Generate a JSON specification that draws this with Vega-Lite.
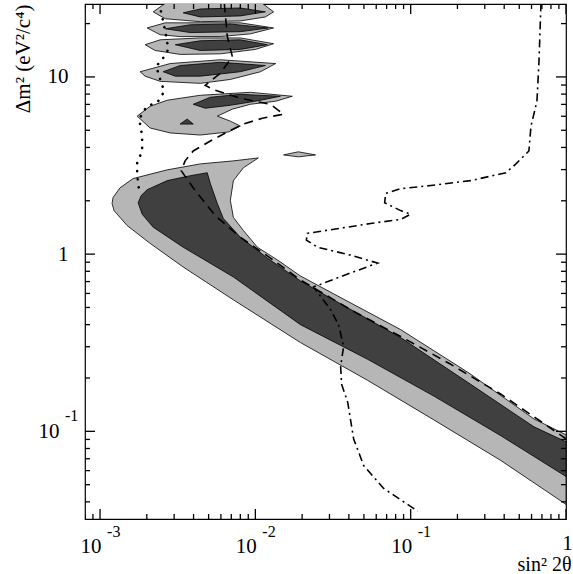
{
 "$schema": "https://vega.github.io/schema/vega-lite/v6.json",
 "width": 481, "height": 515,
 "autosize": {"type": "none"},
 "padding": {"left": 85, "top": 4, "right": 7, "bottom": 55},
 "background": "white",
 "config": {
  "view": {"stroke": "black", "strokeWidth": 1.2},
  "axis": {"grid": false, "domain": false, "ticks": false, "tickSize": 0, "labelColor": "black", "titleColor": "black", "labelFont": "Liberation Serif", "titleFont": "Liberation Serif", "labelFontSize": 21, "titleFontSize": 21, "titleFontWeight": "normal"}
 },
 "datasets": {
  "light": [
   {"id":"L0","i":0,"x":0.001213,"y":2.09},{"id":"L0","i":1,"x":0.001346,"y":2.37},{"id":"L0","i":2,"x":0.001633,"y":2.67},{"id":"L0","i":3,"x":0.00271,"y":2.99},{"id":"L0","i":4,"x":0.00442,"y":3.23},{"id":"L0","i":5,"x":0.00722,"y":3.36},{"id":"L0","i":6,"x":0.01045,"y":3.49},{"id":"L0","i":7,"x":0.00837,"y":3.07},{"id":"L0","i":8,"x":0.00722,"y":2.6},{"id":"L0","i":9,"x":0.0069,"y":2.01},{"id":"L0","i":10,"x":0.00722,"y":1.61},{"id":"L0","i":11,"x":0.00837,"y":1.36},{"id":"L0","i":12,"x":0.0103,"y":1.094},{"id":"L0","i":13,"x":0.0139,"y":0.926},{"id":"L0","i":14,"x":0.0195,"y":0.753},{"id":"L0","i":15,"x":0.0319,"y":0.597},{"id":"L0","i":16,"x":0.0862,"y":0.375},{"id":"L0","i":17,"x":0.233,"y":0.2155},{"id":"L0","i":18,"x":0.622,"y":0.1175},{"id":"L0","i":19,"x":1.0,"y":0.0955},{"id":"L0","i":20,"x":1.0,"y":0.0387},{"id":"L0","i":21,"x":0.381,"y":0.0684},{"id":"L0","i":22,"x":0.141,"y":0.116},{"id":"L0","i":23,"x":0.0528,"y":0.194},{"id":"L0","i":24,"x":0.0195,"y":0.317},{"id":"L0","i":25,"x":0.00722,"y":0.552},{"id":"L0","i":26,"x":0.00343,"y":0.846},{"id":"L0","i":27,"x":0.0021,"y":1.15},{"id":"L0","i":28,"x":0.001493,"y":1.45},{"id":"L0","i":29,"x":0.001231,"y":1.76},{"id":"L0","i":30,"x":0.001195,"y":1.93},{"id":"L0","i":31,"x":0.001213,"y":2.09},
   {"id":"L1","i":0,"x":0.00263,"y":26},{"id":"L1","i":1,"x":0.002198,"y":23.3},{"id":"L1","i":2,"x":0.00263,"y":21.3},{"id":"L1","i":3,"x":0.00442,"y":20.5},{"id":"L1","i":4,"x":0.008,"y":20.7},{"id":"L1","i":5,"x":0.0116,"y":21.8},{"id":"L1","i":6,"x":0.0131,"y":23.3},{"id":"L1","i":7,"x":0.0111,"y":26},{"id":"L1","i":8,"x":0.00263,"y":26},
   {"id":"L2","i":0,"x":0.00201,"y":18.9},{"id":"L2","i":1,"x":0.00263,"y":20.2},{"id":"L2","i":2,"x":0.00442,"y":20.2},{"id":"L2","i":3,"x":0.008,"y":20.2},{"id":"L2","i":4,"x":0.0131,"y":18.9},{"id":"L2","i":5,"x":0.00929,"y":17.5},{"id":"L2","i":6,"x":0.00595,"y":16.9},{"id":"L2","i":7,"x":0.00328,"y":16.9},{"id":"L2","i":8,"x":0.00244,"y":17.3},{"id":"L2","i":9,"x":0.00201,"y":18.9},
   {"id":"L3","i":0,"x":0.001951,"y":15.2},{"id":"L3","i":1,"x":0.00244,"y":16.2},{"id":"L3","i":2,"x":0.00442,"y":16.6},{"id":"L3","i":3,"x":0.008,"y":16.6},{"id":"L3","i":4,"x":0.0131,"y":15.4},{"id":"L3","i":5,"x":0.01,"y":14.3},{"id":"L3","i":6,"x":0.00595,"y":13.5},{"id":"L3","i":7,"x":0.00328,"y":13.4},{"id":"L3","i":8,"x":0.002264,"y":14.1},{"id":"L3","i":9,"x":0.001951,"y":15.2},
   {"id":"L4","i":0,"x":0.001811,"y":10.7},{"id":"L4","i":1,"x":0.00283,"y":11.9},{"id":"L4","i":2,"x":0.00595,"y":12.5},{"id":"L4","i":3,"x":0.0135,"y":11.9},{"id":"L4","i":4,"x":0.0108,"y":10.7},{"id":"L4","i":5,"x":0.0069,"y":9.68},{"id":"L4","i":6,"x":0.00442,"y":9.2},{"id":"L4","i":7,"x":0.00244,"y":9.44},{"id":"L4","i":8,"x":0.001951,"y":10.1},{"id":"L4","i":9,"x":0.001811,"y":10.7},
   {"id":"L5","i":0,"x":0.001734,"y":6.01},{"id":"L5","i":1,"x":0.0021,"y":6.83},{"id":"L5","i":2,"x":0.00271,"y":7.39},{"id":"L5","i":3,"x":0.00442,"y":7.88},{"id":"L5","i":4,"x":0.00929,"y":8.19},{"id":"L5","i":5,"x":0.0173,"y":7.78},{"id":"L5","i":6,"x":0.0135,"y":7.29},{"id":"L5","i":7,"x":0.00929,"y":7.01},{"id":"L5","i":8,"x":0.00711,"y":6.58},{"id":"L5","i":9,"x":0.00569,"y":6.01},{"id":"L5","i":10,"x":0.0069,"y":5.63},{"id":"L5","i":11,"x":0.008,"y":5.28},{"id":"L5","i":12,"x":0.0067,"y":4.89},{"id":"L5","i":13,"x":0.00442,"y":4.7},{"id":"L5","i":14,"x":0.00283,"y":4.83},{"id":"L5","i":15,"x":0.0021,"y":5.15},{"id":"L5","i":16,"x":0.001734,"y":6.01},
   {"id":"L6","i":0,"x":0.0152,"y":3.63},{"id":"L6","i":1,"x":0.0189,"y":3.78},{"id":"L6","i":2,"x":0.0244,"y":3.63},{"id":"L6","i":3,"x":0.0189,"y":3.54},{"id":"L6","i":4,"x":0.0152,"y":3.63}
  ],
  "dark": [
   {"id":"D0","i":0,"x":0.001759,"y":1.95},{"id":"D0","i":1,"x":0.00184,"y":2.14},{"id":"D0","i":2,"x":0.00201,"y":2.31},{"id":"D0","i":3,"x":0.00271,"y":2.6},{"id":"D0","i":4,"x":0.00381,"y":2.77},{"id":"D0","i":5,"x":0.0049,"y":2.88},{"id":"D0","i":6,"x":0.00513,"y":2.5},{"id":"D0","i":7,"x":0.00569,"y":1.93},{"id":"D0","i":8,"x":0.00622,"y":1.59},{"id":"D0","i":9,"x":0.008,"y":1.245},{"id":"D0","i":10,"x":0.01195,"y":0.95},{"id":"D0","i":11,"x":0.0195,"y":0.706},{"id":"D0","i":12,"x":0.0319,"y":0.552},{"id":"D0","i":13,"x":0.0862,"y":0.338},{"id":"D0","i":14,"x":0.233,"y":0.189},{"id":"D0","i":15,"x":0.622,"y":0.106},{"id":"D0","i":16,"x":1.0,"y":0.0873},{"id":"D0","i":17,"x":1.0,"y":0.0556},{"id":"D0","i":18,"x":0.381,"y":0.0944},{"id":"D0","i":19,"x":0.141,"y":0.158},{"id":"D0","i":20,"x":0.0528,"y":0.255},{"id":"D0","i":21,"x":0.0195,"y":0.4},{"id":"D0","i":22,"x":0.00722,"y":0.743},{"id":"D0","i":23,"x":0.00343,"y":1.094},{"id":"D0","i":24,"x":0.002198,"y":1.42},{"id":"D0","i":25,"x":0.001867,"y":1.68},{"id":"D0","i":26,"x":0.001759,"y":1.95},
   {"id":"D1","i":0,"x":0.00343,"y":23.0},{"id":"D1","i":1,"x":0.00442,"y":24.2},{"id":"D1","i":2,"x":0.008,"y":24.5},{"id":"D1","i":3,"x":0.0116,"y":23.3},{"id":"D1","i":4,"x":0.008,"y":22.1},{"id":"D1","i":5,"x":0.00442,"y":21.8},{"id":"D1","i":6,"x":0.00343,"y":23.0},
   {"id":"D2","i":0,"x":0.00263,"y":18.7},{"id":"D2","i":1,"x":0.00381,"y":19.7},{"id":"D2","i":2,"x":0.0069,"y":19.9},{"id":"D2","i":3,"x":0.0121,"y":18.9},{"id":"D2","i":4,"x":0.008,"y":18.0},{"id":"D2","i":5,"x":0.00381,"y":17.8},{"id":"D2","i":6,"x":0.00263,"y":18.7},
   {"id":"D3","i":0,"x":0.00305,"y":15.2},{"id":"D3","i":1,"x":0.00442,"y":16.0},{"id":"D3","i":2,"x":0.008,"y":16.2},{"id":"D3","i":3,"x":0.01195,"y":15.2},{"id":"D3","i":4,"x":0.008,"y":14.3},{"id":"D3","i":5,"x":0.00442,"y":14.1},{"id":"D3","i":6,"x":0.00305,"y":15.2},
   {"id":"D4","i":0,"x":0.00255,"y":10.7},{"id":"D4","i":1,"x":0.00328,"y":11.6},{"id":"D4","i":2,"x":0.00595,"y":12.1},{"id":"D4","i":3,"x":0.0116,"y":11.6},{"id":"D4","i":4,"x":0.008,"y":10.7},{"id":"D4","i":5,"x":0.00442,"y":10.1},{"id":"D4","i":6,"x":0.00305,"y":10.1},{"id":"D4","i":7,"x":0.00255,"y":10.7},
   {"id":"D5","i":0,"x":0.00398,"y":7.01},{"id":"D5","i":1,"x":0.00513,"y":7.68},{"id":"D5","i":2,"x":0.008,"y":7.98},{"id":"D5","i":3,"x":0.0145,"y":7.78},{"id":"D5","i":4,"x":0.01,"y":7.29},{"id":"D5","i":5,"x":0.0069,"y":6.92},{"id":"D5","i":6,"x":0.00476,"y":6.66},{"id":"D5","i":7,"x":0.00398,"y":7.01},
   {"id":"D6","i":0,"x":0.00328,"y":5.42},{"id":"D6","i":1,"x":0.00364,"y":5.78},{"id":"D6","i":2,"x":0.00398,"y":5.42},{"id":"D6","i":3,"x":0.00328,"y":5.42}
  ],
  "curves": [
   {"id":"dot","i":0,"x":0.002404,"y":26},{"id":"dot","i":1,"x":0.00255,"y":20.5},{"id":"dot","i":2,"x":0.00267,"y":16.9},{"id":"dot","i":3,"x":0.00275,"y":14.3},{"id":"dot","i":4,"x":0.00251,"y":12.5},{"id":"dot","i":5,"x":0.002297,"y":11.5},{"id":"dot","i":6,"x":0.00244,"y":9.68},{"id":"dot","i":7,"x":0.00259,"y":8.29},{"id":"dot","i":8,"x":0.002366,"y":7.29},{"id":"dot","i":9,"x":0.001982,"y":6.75},{"id":"dot","i":10,"x":0.001786,"y":5.78},{"id":"dot","i":11,"x":0.001867,"y":4.64},{"id":"dot","i":12,"x":0.001867,"y":3.82},{"id":"dot","i":13,"x":0.001734,"y":3.28},{"id":"dot","i":14,"x":0.001734,"y":2.77},{"id":"dot","i":15,"x":0.001786,"y":2.28},
   {"id":"dash","i":0,"x":0.00631,"y":26},{"id":"dash","i":1,"x":0.0066,"y":16.9},{"id":"dash","i":2,"x":0.00711,"y":13.0},{"id":"dash","i":3,"x":0.00595,"y":10.5},{"id":"dash","i":4,"x":0.00476,"y":8.96},{"id":"dash","i":5,"x":0.00552,"y":8.4},{"id":"dash","i":6,"x":0.008,"y":7.58},{"id":"dash","i":7,"x":0.0125,"y":7.01},{"id":"dash","i":8,"x":0.0152,"y":6.16},{"id":"dash","i":9,"x":0.0141,"y":6.09},{"id":"dash","i":10,"x":0.0111,"y":5.85},{"id":"dash","i":11,"x":0.00837,"y":5.42},{"id":"dash","i":12,"x":0.0066,"y":4.89},{"id":"dash","i":13,"x":0.00513,"y":4.35},{"id":"dash","i":14,"x":0.00398,"y":3.82},{"id":"dash","i":15,"x":0.00353,"y":3.36},{"id":"dash","i":16,"x":0.00333,"y":2.96},{"id":"dash","i":17,"x":0.0041,"y":2.28},{"id":"dash","i":18,"x":0.00552,"y":1.65},{"id":"dash","i":19,"x":0.008,"y":1.245},{"id":"dash","i":20,"x":0.0125,"y":0.95},{"id":"dash","i":21,"x":0.0195,"y":0.715},{"id":"dash","i":22,"x":0.041,"y":0.486},{"id":"dash","i":23,"x":0.0862,"y":0.343},{"id":"dash","i":24,"x":0.181,"y":0.239},{"id":"dash","i":25,"x":0.381,"y":0.162},{"id":"dash","i":26,"x":1.0,"y":0.0908},
   {"id":"dd","i":0,"x":0.69,"y":26},{"id":"dd","i":1,"x":0.67,"y":12.2},{"id":"dd","i":2,"x":0.65,"y":7.29},{"id":"dd","i":3,"x":0.595,"y":5.28},{"id":"dd","i":4,"x":0.577,"y":3.82},{"id":"dd","i":5,"x":0.476,"y":3.23},{"id":"dd","i":6,"x":0.41,"y":2.88},{"id":"dd","i":7,"x":0.244,"y":2.6},{"id":"dd","i":8,"x":0.135,"y":2.44},{"id":"dd","i":9,"x":0.0862,"y":2.34},{"id":"dd","i":10,"x":0.069,"y":2.2},{"id":"dd","i":11,"x":0.068,"y":1.95},{"id":"dd","i":12,"x":0.0862,"y":1.76},{"id":"dd","i":13,"x":0.1,"y":1.68},{"id":"dd","i":14,"x":0.0862,"y":1.57},{"id":"dd","i":15,"x":0.0552,"y":1.49},{"id":"dd","i":16,"x":0.0354,"y":1.4},{"id":"dd","i":17,"x":0.0216,"y":1.31},{"id":"dd","i":18,"x":0.0213,"y":1.2},{"id":"dd","i":19,"x":0.0251,"y":1.094},{"id":"dd","i":20,"x":0.041,"y":0.987},{"id":"dd","i":21,"x":0.0612,"y":0.89},{"id":"dd","i":22,"x":0.041,"y":0.783},{"id":"dd","i":23,"x":0.0237,"y":0.653},{"id":"dd","i":24,"x":0.0305,"y":0.486},{"id":"dd","i":25,"x":0.0343,"y":0.4},{"id":"dd","i":26,"x":0.037,"y":0.301},{"id":"dd","i":27,"x":0.0354,"y":0.233},{"id":"dd","i":28,"x":0.0359,"y":0.1845},{"id":"dd","i":29,"x":0.0393,"y":0.146},{"id":"dd","i":30,"x":0.0429,"y":0.0908},{"id":"dd","i":31,"x":0.0498,"y":0.0641},{"id":"dd","i":32,"x":0.067,"y":0.0476},{"id":"dd","i":33,"x":0.111,"y":0.0354}
  ],
  "xexp": [{"v":0.001,"e":"-3"},{"v":0.01,"e":"-2"},{"v":0.1,"e":"-1"}],
  "yexp": [{"v":0.1,"e":"-1"}],
  "xt": [{"v":0.0008,"k":"minor"},{"v":0.0009,"k":"minor"},{"v":0.001,"k":"major"},{"v":0.002,"k":"minor"},{"v":0.003,"k":"minor"},{"v":0.004,"k":"minor"},{"v":0.005,"k":"minor"},{"v":0.006,"k":"minor"},{"v":0.007,"k":"minor"},{"v":0.008,"k":"minor"},{"v":0.009,"k":"minor"},{"v":0.01,"k":"major"},{"v":0.02,"k":"minor"},{"v":0.03,"k":"minor"},{"v":0.04,"k":"minor"},{"v":0.05,"k":"minor"},{"v":0.06,"k":"minor"},{"v":0.07,"k":"minor"},{"v":0.08,"k":"minor"},{"v":0.09,"k":"minor"},{"v":0.1,"k":"major"},{"v":0.2,"k":"minor"},{"v":0.3,"k":"minor"},{"v":0.4,"k":"minor"},{"v":0.5,"k":"minor"},{"v":0.6,"k":"minor"},{"v":0.7,"k":"minor"},{"v":0.8,"k":"minor"},{"v":0.9,"k":"minor"},{"v":1,"k":"major"}],
  "yt": [{"v":0.04,"k":"minor"},{"v":0.05,"k":"minor"},{"v":0.06,"k":"minor"},{"v":0.07,"k":"minor"},{"v":0.08,"k":"minor"},{"v":0.09,"k":"minor"},{"v":0.1,"k":"major"},{"v":0.2,"k":"minor"},{"v":0.3,"k":"minor"},{"v":0.4,"k":"minor"},{"v":0.5,"k":"minor"},{"v":0.6,"k":"minor"},{"v":0.7,"k":"minor"},{"v":0.8,"k":"minor"},{"v":0.9,"k":"minor"},{"v":1,"k":"major"},{"v":2,"k":"minor"},{"v":3,"k":"minor"},{"v":4,"k":"minor"},{"v":5,"k":"minor"},{"v":6,"k":"minor"},{"v":7,"k":"minor"},{"v":8,"k":"minor"},{"v":9,"k":"minor"},{"v":10,"k":"major"},{"v":20,"k":"minor"}]
 },
 "layer": [
  {
   "data": {"name": "light"},
   "mark": {"type": "line", "fill": "#b6b6b6", "stroke": "black", "strokeWidth": 0.8, "clip": true},
   "encoding": {
    "x": {"field": "x", "type": "quantitative", "scale": {"type": "log", "domain": [0.0008, 1], "nice": false},
     "axis": {"orient": "bottom", "values": [0.001,0.01,0.1,1],
      "labelExpr": "datum.value > 0.99 ? '1' : '10'",
      "labelPadding": {"condition": {"test": "datum.value > 0.99", "value": 30}, "value": 33}, "labelBaseline": "alphabetic", "labelAlign": {"condition": {"test": "datum.value > 0.99", "value": "center"}, "value": "right"},
      "labelOffset": 1, "labelFlush": false, "labelOverlap": false, "labelBound": false,
      "title": "sin² 2θ", "titleX": 486, "titleY": 51, "titleAlign": "right", "titleBaseline": "alphabetic", "titleFontSize": 20}},
    "y": {"field": "y", "type": "quantitative", "scale": {"type": "log", "domain": [0.032, 25.8], "nice": false},
     "axis": {"orient": "left", "values": [0.1,1,10],
      "labelExpr": "(datum.value > 0.99 && datum.value < 1.01) ? '1' : '10'",
      "labelPadding": {"condition": {"test": "datum.value < 0.2", "value": 26}, "value": 17},
      "labelBaseline": "middle", "labelFlush": false, "labelOverlap": false, "labelBound": false,
      "title": "Δm² (eV²/c⁴)", "titleAngle": -90, "titleX": -56, "titleY": 0, "titleAlign": "right", "titleBaseline": "alphabetic", "titleFontSize": 21}},
    "detail": {"field": "id"},
    "order": {"field": "i", "type": "quantitative"}
   }
  },
  {
   "data": {"name": "dark"},
   "mark": {"type": "line", "fill": "#404040", "stroke": "black", "strokeWidth": 0.8, "clip": true},
   "encoding": {
    "x": {"field": "x", "type": "quantitative", "scale": {"type": "log", "domain": [0.0008, 1], "nice": false}},
    "y": {"field": "y", "type": "quantitative", "scale": {"type": "log", "domain": [0.032, 25.8], "nice": false}},
    "detail": {"field": "id"},
    "order": {"field": "i", "type": "quantitative"}
   }
  },
  {
   "data": {"name": "curves"},
   "transform": [{"filter": "datum.id == 'dot'"}],
   "mark": {"type": "line", "stroke": "black", "strokeWidth": 2.6, "strokeDash": [0.1, 8], "strokeCap": "round", "clip": true},
   "encoding": {
    "x": {"field": "x", "type": "quantitative", "scale": {"type": "log", "domain": [0.0008, 1], "nice": false}},
    "y": {"field": "y", "type": "quantitative", "scale": {"type": "log", "domain": [0.032, 25.8], "nice": false}},
    "order": {"field": "i", "type": "quantitative"}
   }
  },
  {
   "data": {"name": "curves"},
   "transform": [{"filter": "datum.id == 'dash'"}],
   "mark": {"type": "line", "stroke": "black", "strokeWidth": 1.6, "strokeDash": [9, 6], "clip": true},
   "encoding": {
    "x": {"field": "x", "type": "quantitative", "scale": {"type": "log", "domain": [0.0008, 1], "nice": false}},
    "y": {"field": "y", "type": "quantitative", "scale": {"type": "log", "domain": [0.032, 25.8], "nice": false}},
    "order": {"field": "i", "type": "quantitative"}
   }
  },
  {
   "data": {"name": "curves"},
   "transform": [{"filter": "datum.id == 'dd'"}],
   "mark": {"type": "line", "stroke": "black", "strokeWidth": 1.6, "strokeDash": [8, 4, 2, 4], "clip": true},
   "encoding": {
    "x": {"field": "x", "type": "quantitative", "scale": {"type": "log", "domain": [0.0008, 1], "nice": false}},
    "y": {"field": "y", "type": "quantitative", "scale": {"type": "log", "domain": [0.032, 25.8], "nice": false}},
    "order": {"field": "i", "type": "quantitative"}
   }
  },
  {
   "data": {"name": "xt"},
   "mark": {"type": "tick", "orient": "vertical", "thickness": 1.3, "color": "black", "opacity": 1, "clip": true},
   "encoding": {
    "x": {"field": "v", "type": "quantitative", "scale": {"type": "log", "domain": [0.0008, 1], "nice": false}},
    "y": {"datum": 0.032, "type": "quantitative", "scale": {"type": "log", "domain": [0.032, 25.8], "nice": false}},
    "size": {"field": "k", "type": "nominal", "scale": {"domain": ["major", "minor"], "range": [20, 10]}, "legend": null}
   }
  },
  {
   "data": {"name": "xt"},
   "mark": {"type": "tick", "orient": "vertical", "thickness": 1.3, "color": "black", "opacity": 1, "clip": true},
   "encoding": {
    "x": {"field": "v", "type": "quantitative", "scale": {"type": "log", "domain": [0.0008, 1], "nice": false}},
    "y": {"datum": 25.8, "type": "quantitative", "scale": {"type": "log", "domain": [0.032, 25.8], "nice": false}},
    "size": {"field": "k", "type": "nominal", "scale": {"domain": ["major", "minor"], "range": [20, 10]}, "legend": null}
   }
  },
  {
   "data": {"name": "yt"},
   "mark": {"type": "tick", "orient": "horizontal", "thickness": 1.3, "color": "black", "opacity": 1, "clip": true},
   "encoding": {
    "x": {"datum": 0.0008, "type": "quantitative", "scale": {"type": "log", "domain": [0.0008, 1], "nice": false}},
    "y": {"field": "v", "type": "quantitative", "scale": {"type": "log", "domain": [0.032, 25.8], "nice": false}},
    "size": {"field": "k", "type": "nominal", "scale": {"domain": ["major", "minor"], "range": [20, 10]}, "legend": null}
   }
  },
  {
   "data": {"name": "yt"},
   "mark": {"type": "tick", "orient": "horizontal", "thickness": 1.3, "color": "black", "opacity": 1, "clip": true},
   "encoding": {
    "x": {"datum": 1, "type": "quantitative", "scale": {"type": "log", "domain": [0.0008, 1], "nice": false}},
    "y": {"field": "v", "type": "quantitative", "scale": {"type": "log", "domain": [0.032, 25.8], "nice": false}},
    "size": {"field": "k", "type": "nominal", "scale": {"domain": ["major", "minor"], "range": [20, 10]}, "legend": null}
   }
  },
  {
   "data": {"name": "xexp"},
   "mark": {"type": "text", "align": "left", "baseline": "alphabetic", "dx": 7, "dy": 18, "fontSize": 16, "font": "Liberation Serif", "color": "black"},
   "encoding": {
    "x": {"field": "v", "type": "quantitative", "scale": {"type": "log", "domain": [0.0008, 1], "nice": false}},
    "y": {"datum": 0.032, "type": "quantitative", "scale": {"type": "log", "domain": [0.032, 25.8], "nice": false}},
    "text": {"field": "e"}
   }
  },
  {
   "data": {"name": "yexp"},
   "mark": {"type": "text", "align": "left", "baseline": "alphabetic", "dx": -20, "dy": -10, "fontSize": 16, "font": "Liberation Serif", "color": "black"},
   "encoding": {
    "x": {"datum": 0.0008, "type": "quantitative", "scale": {"type": "log", "domain": [0.0008, 1], "nice": false}},
    "y": {"field": "v", "type": "quantitative", "scale": {"type": "log", "domain": [0.032, 25.8], "nice": false}},
    "text": {"field": "e"}
   }
  }
 ]
}
